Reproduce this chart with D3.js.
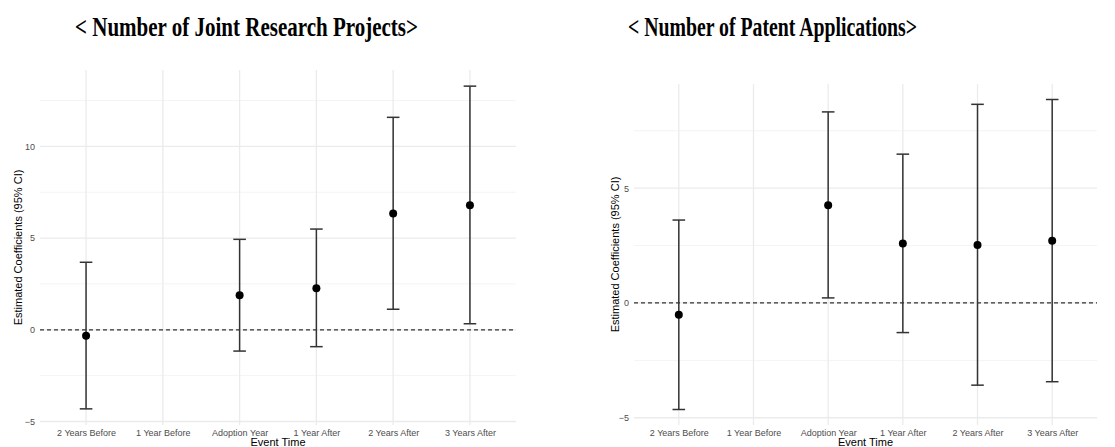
<!DOCTYPE html>
<html>
<head>
<meta charset="utf-8">
<script src="https://cdn.jsdelivr.net/npm/d3@7"></script>
<style>
  body { margin: 0; background: #fff; }
  svg { display: block; font-family: Arial, "Liberation Sans", sans-serif; }
</style>
</head>
<body>
<div id="chart"></div>
<script>
// event time categories (1 Year Before is the reference period, no estimate)
const categories = ["2 Years Before", "1 Year Before", "Adoption Year", "1 Year After", "2 Years After", "3 Years After"];

// joint research projects
const jointEst   = [-0.33, null, 1.88, 2.26, 6.34, 6.79];
const jointLower = [-4.31, null, -1.16, -0.92, 1.12, 0.33];
const jointUpper = [3.68, null, 4.93, 5.49, 11.58, 13.28];
const jointTicks = [-5, 0, 5, 10];

// patent applications
const patentEst   = [-0.51, null, 4.26, 2.59, 2.52, 2.71];
const patentLower = [-4.64, null, 0.22, -1.29, -3.58, -3.43];
const patentUpper = [3.61, null, 8.32, 6.48, 8.65, 8.86];
const patentTicks = [-5, 0, 5];

const W = 1115, H = 447;

const svg = d3.select("#chart")
  .append("svg")
    .attr("width", W)
    .attr("height", H);

function drawPanel(opt) {
  const rows = categories.map((c, i) => ({
    cat: c, est: opt.est[i], lo: opt.lower[i], hi: opt.upper[i]
  }));
  const valid = rows.filter(d => d.est != null);

  // ggplot-like 5% expansion
  const lo = d3.min(valid, d => d.lo), hi = d3.max(valid, d => d.hi);
  const pad = (hi - lo) * 0.05;

  const x = d3.scalePoint()
    .domain(categories)
    .range([opt.left, opt.right])
    .padding(0.6);
  const y = d3.scaleLinear()
    .domain([lo - pad, hi + pad])
    .range([opt.bottom, opt.top]);

  const g = svg.append("g");

  // minor grid
  const minor = opt.ticks.map(t => t + 2.5).filter(v => v <= y.domain()[1]);
  g.selectAll(".minor").data(minor).enter().append("line")
    .attr("x1", opt.left).attr("x2", opt.right)
    .attr("y1", d => y(d)).attr("y2", d => y(d))
    .attr("stroke", "#f4f4f4").attr("stroke-width", 1);

  // major grid
  g.selectAll(".hmajor").data(opt.ticks).enter().append("line")
    .attr("x1", opt.left).attr("x2", opt.right)
    .attr("y1", d => y(d)).attr("y2", d => y(d))
    .attr("stroke", "#ebebeb").attr("stroke-width", 1.3);
  g.selectAll(".vmajor").data(categories).enter().append("line")
    .attr("x1", d => x(d)).attr("x2", d => x(d))
    .attr("y1", opt.top).attr("y2", opt.bottom)
    .attr("stroke", "#ebebeb").attr("stroke-width", 1.3);

  // zero line
  g.append("line")
    .attr("x1", opt.left).attr("x2", opt.right)
    .attr("y1", y(0)).attr("y2", y(0))
    .attr("stroke", "#333").attr("stroke-width", 1.2)
    .attr("stroke-dasharray", "4,3");

  // axes
  const ya = g.append("g")
    .attr("transform", `translate(${opt.left},0)`)
    .call(d3.axisLeft(y).tickValues(opt.ticks).tickSize(0).tickPadding(5));
  const xa = g.append("g")
    .attr("transform", `translate(0,${opt.bottom})`)
    .call(d3.axisBottom(x).tickSize(0).tickPadding(5));
  [ya, xa].forEach(a => {
    a.select(".domain").remove();
    a.selectAll("text").attr("fill", "#4d4d4d").style("font-size", "9px");
  });

  // error bars
  const cap = 6.3;
  const bars = g.selectAll(".bar").data(valid).enter().append("g");
  bars.append("line")
    .attr("x1", d => x(d.cat)).attr("x2", d => x(d.cat))
    .attr("y1", d => y(d.lo)).attr("y2", d => y(d.hi))
    .attr("stroke", "#333").attr("stroke-width", 1.5);
  bars.append("line")
    .attr("x1", d => x(d.cat) - cap).attr("x2", d => x(d.cat) + cap)
    .attr("y1", d => y(d.hi)).attr("y2", d => y(d.hi))
    .attr("stroke", "#333").attr("stroke-width", 1.5);
  bars.append("line")
    .attr("x1", d => x(d.cat) - cap).attr("x2", d => x(d.cat) + cap)
    .attr("y1", d => y(d.lo)).attr("y2", d => y(d.lo))
    .attr("stroke", "#333").attr("stroke-width", 1.5);
  bars.append("circle")
    .attr("cx", d => x(d.cat)).attr("cy", d => y(d.est))
    .attr("r", 4).attr("fill", "#000");

  // axis titles
  g.append("text")
    .attr("transform", `translate(${opt.ylabX},${(opt.top + opt.bottom) / 2}) rotate(-90)`)
    .attr("text-anchor", "middle")
    .attr("dy", "0.35em")
    .style("font-size", "11px")
    .text("Estimated Coefficients (95% CI)");
  g.append("text")
    .attr("x", (opt.left + opt.right) / 2)
    .attr("y", 446)
    .attr("text-anchor", "middle")
    .style("font-size", "11px")
    .text("Event Time");

  // panel title
  svg.append("text")
    .attr("x", opt.titleX)
    .attr("y", 36)
    .attr("textLength", opt.titleLen)
    .attr("lengthAdjust", "spacingAndGlyphs")
    .style("font-family", "'Liberation Serif', 'Times New Roman', serif")
    .style("font-weight", "bold")
    .style("font-size", "27px")
    .text(opt.title);
}

drawPanel({
  title: "< Number of Joint Research Projects>", titleX: 75, titleLen: 343,
  est: jointEst, lower: jointLower, upper: jointUpper, ticks: jointTicks,
  left: 40, right: 516, top: 70, bottom: 425, ylabX: 18
});

drawPanel({
  title: "< Number of Patent Applications>", titleX: 628, titleLen: 289,
  est: patentEst, lower: patentLower, upper: patentUpper, ticks: patentTicks,
  left: 634, right: 1097, top: 84, bottom: 425, ylabX: 615
});
</script>
</body>
</html>
